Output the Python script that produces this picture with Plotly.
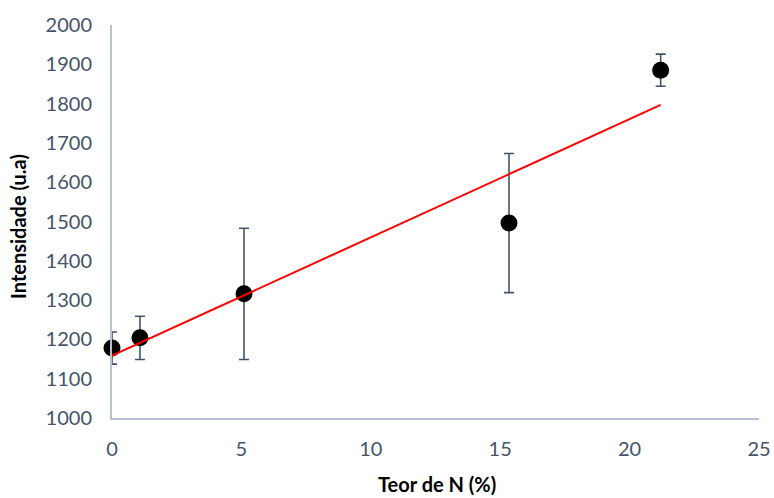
import numpy as np
import plotly.graph_objects as go

teor_n = [0.0, 1.08, 5.1, 15.34, 21.2]
intensidade = [1178, 1204, 1316, 1496, 1885]
erro = [41, 55, 167, 177, 41]

x_ticks = [0, 5, 10, 15, 20, 25]
y_ticks = [1000, 1100, 1200, 1300, 1400, 1500, 1600, 1700, 1800, 1900, 2000]

slope, intercept = np.polyfit(teor_n, intensidade, 1)
x_fit = [min(teor_n), max(teor_n)]
y_fit = [slope * v + intercept for v in x_fit]

fig = go.Figure()
fig.add_trace(go.Scatter(
    x=teor_n, y=intensidade, mode="markers",
    marker=dict(color="black", size=17),
    error_y=dict(type="data", array=erro, visible=True, color="#44546a", thickness=1.6, width=5),
    showlegend=False, cliponaxis=False,
))
fig.add_trace(go.Scatter(
    x=x_fit, y=y_fit, mode="lines",
    line=dict(color="#ff0000", width=2),
    showlegend=False,
))

tick_font = dict(family="Lato, Carlito, sans-serif", size=20, color="#44546a")
title_font = dict(family="Lato, Carlito, sans-serif", size=20, color="black")
axis_line = "#b4c0d4"

fig.update_layout(
    width=774, height=498,
    margin=dict(l=112, r=15, t=25, b=80, autoexpand=False),
    plot_bgcolor="white", paper_bgcolor="white",
    xaxis=dict(
        range=[0, 25], tickvals=x_ticks, showgrid=False, zeroline=False,
        showline=True, linecolor=axis_line, linewidth=2, automargin=False,
        ticks="outside", ticklen=12, tickcolor="rgba(0,0,0,0)",
        tickfont=tick_font,
    ),
    yaxis=dict(
        range=[1000, 2000], tickvals=y_ticks, showgrid=False, zeroline=False,
        showline=True, linecolor=axis_line, linewidth=2, automargin=False,
        ticks="outside", ticklen=14, tickcolor="rgba(0,0,0,0)",
        tickfont=tick_font,
    ),
    annotations=[
        dict(text="<b>Teor de N (%)</b>", xref="paper", yref="paper",
             x=(437 - 112) / 647, y=-(484 - 418) / 393, showarrow=False,
             xanchor="center", yanchor="middle", font=title_font),
        dict(text="<b>Intensidade (u.a)</b>", xref="paper", yref="paper",
             x=-(112 - 18) / 647, y=(418 - 227) / 393, showarrow=False, textangle=-90,
             xanchor="center", yanchor="middle", font=title_font),
    ],
)

fig.write_html("out.html")
